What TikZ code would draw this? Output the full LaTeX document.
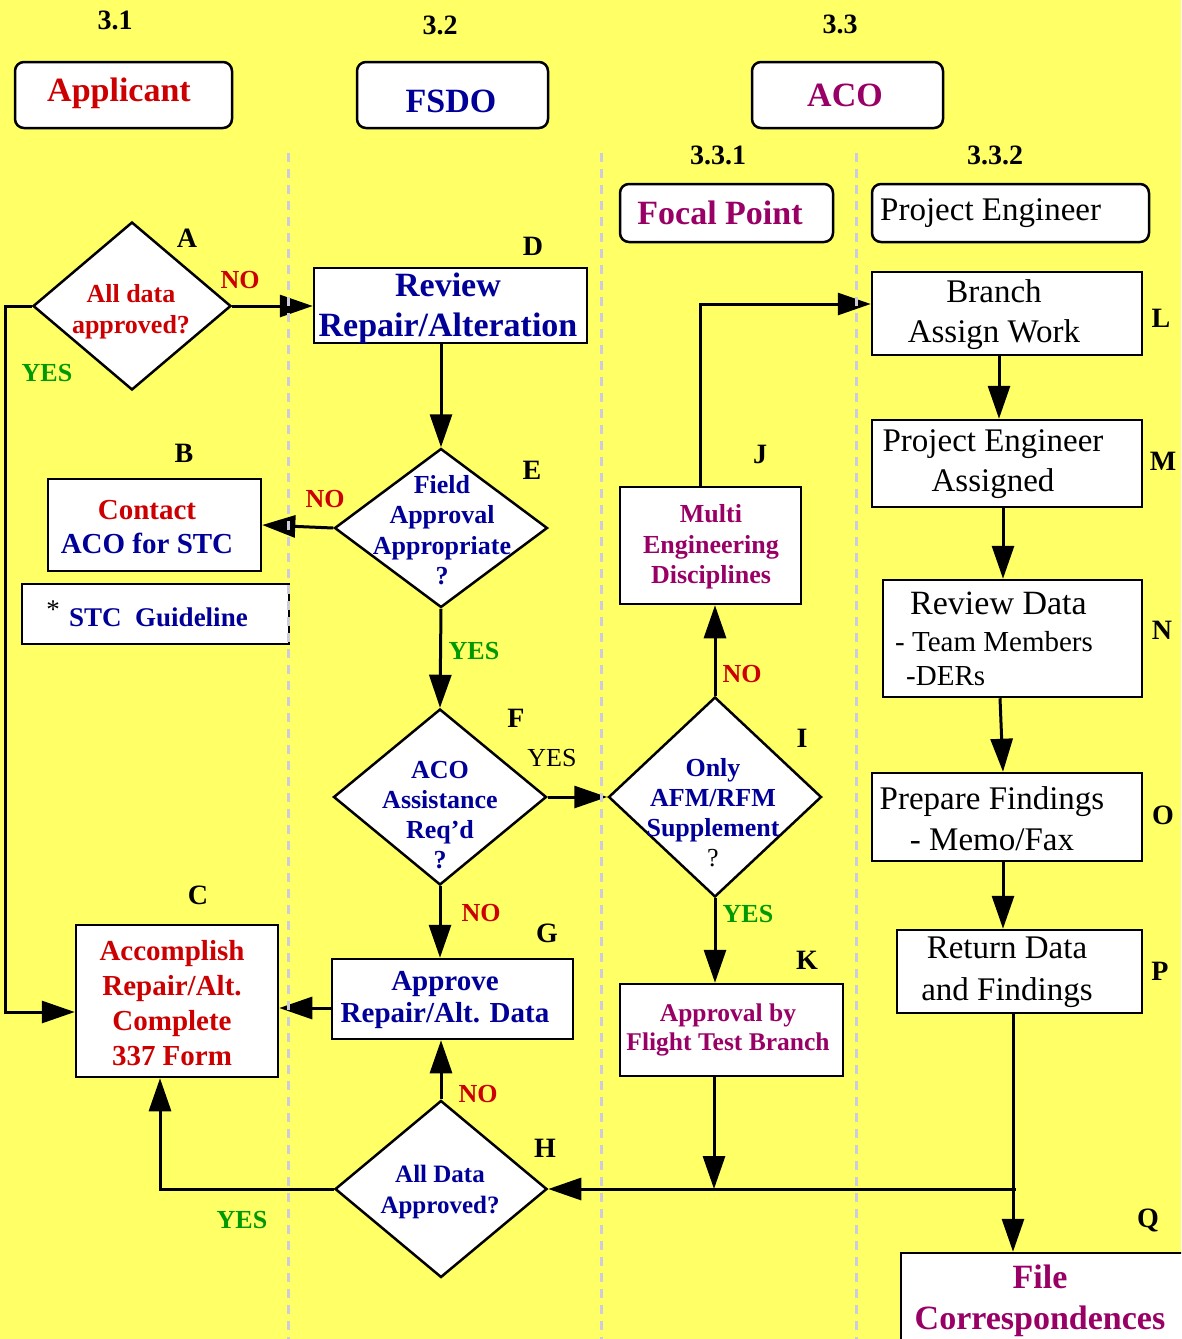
\documentclass[tikz,border=0pt]{standalone}
\usepackage{fontspec}
\setmainfont{Liberation Serif}
\usetikzlibrary{arrows.meta,shapes.geometric}
\definecolor{bgY}{RGB}{255,255,102}
\definecolor{cRed}{RGB}{204,0,0}
\definecolor{cBlue}{RGB}{0,0,153}
\definecolor{cPur}{RGB}{153,0,102}
\definecolor{cGrn}{RGB}{0,153,0}
\definecolor{cDash}{RGB}{204,204,221}
\newcommand\fsz[2]{\fontsize{#1}{#2}\selectfont}
\tikzset{
  box/.style={draw=black, fill=white, line width=2.5pt, inner sep=0pt},
  rbox/.style={box, rounded corners=9pt},
  dia/.style={diamond, draw=black, fill=white, line width=2.5pt, inner sep=0pt},
  arr/.style={line width=3pt, -{Triangle[length=33pt,width=22pt]}},
  ln/.style={line width=3pt},
  txt/.style={align=center, inner sep=0pt},
  sec/.style={inner sep=0pt, font=\fsz{28}{32}\bfseries},
  let/.style={inner sep=0pt, font=\fsz{28}{32}\bfseries},
  no/.style={inner sep=0pt, text=cRed, font=\fsz{26}{30}\bfseries},
  yes/.style={inner sep=0pt, text=cGrn, font=\fsz{26}{30}\bfseries},
  lane/.style={cDash, line width=3pt, dash pattern=on 9pt off 7pt},
}
\begin{document}
\begin{tikzpicture}[x=1pt,y=-1pt]
\useasboundingbox (0,0) rectangle (1181,1339);
\fill[bgY] (0,0) rectangle (1181,1339);
\clip (0,0) rectangle (1181,1339);

% section numbers
\node[sec] (s31) at (115,20) {3.1};
\node[sec] (s32) at (440,25) {3.2};
\node[sec] (s33) at (840,24) {3.3};
\node[sec] (s331) at (718,155) {3.3.1};
\node[sec] (s332) at (995,155) {3.3.2};

% header boxes
\node[rbox, minimum width=217pt, minimum height=66pt] (app) at (123.5,95) {};
\node[txt, text=cRed, font=\fsz{34}{40}\bfseries] (appt) at (119,93) {Applicant};
\node[rbox, minimum width=191pt, minimum height=66pt] (fsdo) at (452.5,95) {};
\node[txt, text=cBlue, font=\fsz{34}{40}\bfseries] (fsdot) at (451,101) {FSDO};
\node[rbox, minimum width=191pt, minimum height=66pt] (aco) at (847.5,95) {};
\node[txt, text=cPur, font=\fsz{34}{40}\bfseries] (acot) at (845,95) {ACO};
\node[rbox, minimum width=213pt, minimum height=58pt] (focal) at (726.5,213) {};
\node[txt, text=cPur, font=\fsz{34}{40}\bfseries] (focalt) at (720,213) {Focal Point};
\node[rbox, minimum width=277pt, minimum height=58pt] (pe) at (1010.5,213) {};
\node[txt, anchor=west, font=\fsz{33}{40}] (pet) at (880,213) {Project Engineer};

% diamonds
\node[dia, minimum width=198pt, minimum height=168pt] (A) at (132,306) {};
\node[txt, text=cRed, font=\fsz{26}{31}\bfseries] (At) at (131,312) {All data\\approved?};
\node[dia, minimum width=213pt, minimum height=159pt] (E) at (441,528) {};
\node[txt, text=cBlue, font=\fsz{26}{30.5}\bfseries] (Et) at (442,530) {Field\\Approval\\Appropriate\\?};
\node[dia, minimum width=213pt, minimum height=176pt] (F) at (440,797) {};
\node[txt, text=cBlue, font=\fsz{26}{30}\bfseries] (Ft) at (440,815) {ACO\\Assistance\\Req’d\\?};
\node[dia, minimum width=213pt, minimum height=200pt] (I) at (715,797) {};
\node[txt, text=cBlue, font=\fsz{26}{30}\bfseries] (It) at (713,813) {Only\\AFM/RFM\\Supplement\\{\mdseries\color{black}?}};
\node[dia, minimum width=212pt, minimum height=177pt] (H) at (441,1189) {};
\node[txt, text=cBlue, font=\fsz{25}{31}\bfseries] (Ht) at (440,1192) {All Data\\Approved?};

% boxes
\node[box, minimum width=273pt, minimum height=75pt] (D) at (450.5,305.5) {};
\node[txt, text=cBlue, font=\fsz{34}{40}\bfseries] (Dt) at (448,308) {Review\\Repair/Alteration};
\node[box, minimum width=213pt, minimum height=92pt] (B) at (154.5,525) {};
\node[txt, font=\fsz{29}{34}\bfseries] (Bt) at (147,527) {\textcolor{cRed}{Contact}\\\textcolor{cBlue}{ACO for STC}};
\node[box, minimum width=267pt, minimum height=60pt] (stc) at (155.5,614) {};
\node[inner sep=0pt, font=\fsz{27}{30}] (stcs) at (53,610) {*};
\node[inner sep=0pt, anchor=west, text=cBlue, font=\fsz{27}{30}\bfseries] (stct) at (69,617) {STC\ \ Guideline};
\node[box, minimum width=202pt, minimum height=152pt] (C) at (177,1001) {};
\node[txt, text=cRed, font=\fsz{29}{35}\bfseries] (Ct) at (172,1003) {Accomplish\\Repair/Alt.\\Complete\\337 Form};
\node[box, minimum width=241pt, minimum height=80pt] (G) at (452.5,999) {};
\node[txt, text=cBlue, font=\fsz{29}{32}\bfseries] (Gt) at (445,1000) {Approve\\Repair/Alt. Data};
\node[box, minimum width=181pt, minimum height=117pt] (J) at (710.5,545.5) {};
\node[txt, text=cPur, font=\fsz{26}{30.5}\bfseries] (Jt) at (711,547) {Multi\\Engineering\\Disciplines};
\node[box, minimum width=223pt, minimum height=92pt] (K) at (731.5,1030) {};
\node[txt, text=cPur, font=\fsz{25.5}{29}\bfseries] (Kt) at (728,1030) {Approval by\\Flight Test Branch};
\node[box, minimum width=270pt, minimum height=83pt] (L) at (1007,313.5) {};
\node[txt, font=\fsz{33}{40}] (Lt) at (994,315) {Branch\\Assign Work};
\node[box, minimum width=270pt, minimum height=87pt] (M) at (1007,463.5) {};
\node[txt, font=\fsz{33}{40}] (Mt) at (993,464) {Project Engineer\\Assigned};
\node[box, minimum width=259pt, minimum height=117pt] (N) at (1012.5,638.5) {};
\node[inner sep=0pt, anchor=base west, font=\fsz{34}{40}] (Nt1) at (910,614) {Review Data};
\node[inner sep=0pt, anchor=base west, font=\fsz{29}{34}] (Nt2) at (895,651) {- Team Members};
\node[inner sep=0pt, anchor=base west, font=\fsz{29}{34}] (Nt3) at (906,685) {-DERs};
\node[box, minimum width=270pt, minimum height=88pt] (O) at (1007,817) {};
\node[txt, font=\fsz{33}{41}] (Ot) at (992,819) {Prepare Findings\\- Memo/Fax};
\node[box, minimum width=245pt, minimum height=83pt] (P) at (1019.5,971.5) {};
\node[txt, font=\fsz{33}{42}] (Pt) at (1007,972) {Return Data\\and Findings};
\node[box, minimum width=299pt, minimum height=107pt] (Q) at (1050.5,1306.5) {};
\node[txt, text=cPur, font=\fsz{34}{41}\bfseries] (Qt) at (1040,1301) {File\\Correspondences};

% letters
\node[let] (lA) at (187,238) {A};
\node[let] (lB) at (184,453) {B};
\node[let] (lC) at (198,895) {C};
\node[let] (lD) at (533,246) {D};
\node[let] (lE) at (532,470) {E};
\node[let] (lF) at (516,718) {F};
\node[let] (lG) at (547,933) {G};
\node[let] (lH) at (545,1148) {H};
\node[let] (lI) at (802,738) {I};
\node[let] (lJ) at (760,454) {J};
\node[let] (lK) at (807,960) {K};
\node[let] (lL) at (1161,318) {L};
\node[let] (lM) at (1163,461) {M};
\node[let] (lN) at (1162,630) {N};
\node[let] (lO) at (1163,815) {O};
\node[let] (lP) at (1160,971) {P};
\node[let] (lQ) at (1148,1220) {Q};

% yes / no
\node[no] (noA) at (240,280) {NO};
\node[yes] (yesA) at (47,373) {YES};
\node[no] (noE) at (325,499) {NO};
\node[yes] (yesE) at (474,651) {YES};
\node[inner sep=0pt, font=\fsz{26}{30}] (yesF) at (552,758) {YES};
\node[no] (noF) at (481,913) {NO};
\node[no] (noI) at (742,674) {NO};
\node[yes] (yesI) at (748,914) {YES};
\node[no] (noH) at (478,1094) {NO};
\node[yes] (yesH) at (242,1220) {YES};

% connectors
\coordinate (cAl) at (5,306);
\coordinate (cCl) at (5,1012);
\coordinate (cHC) at (160,1189);
\coordinate (cJL) at (700,304);
\coordinate (cPH) at (1016,1189);

\draw[arr] (A.east) -- (A.east -| D.west);
\draw[arr] (A.west) -- (cAl) -- (cCl) -- (cCl -| C.west);
\draw[arr] (D.south -| E.north) -- (E.north);
\draw[arr] (E.west) -- (B.east);
\draw[arr] (E.south) -- (F.north);
\draw[arr] (F.east) -- (I.west);
\draw[arr] (F.south) -- (F.south |- G.north);
\draw[arr] ([yshift=-9pt]G.west) -- ([yshift=-9pt]G.west -| C.east);
\draw[arr] (H.north) -- (H.north |- G.south);
\draw[arr] (H.west) -- (cHC) -- (cHC |- C.south);
\draw[arr] (I.north) -- (I.north |- J.south);
\draw[arr] (cJL |- J.north) -- (cJL) -- (cJL -| L.west);
\draw[arr] (I.south) -- (I.south |- K.north);
\draw[arr] ([xshift=-8pt]L.south) -- ([xshift=-8pt]M.north);
\draw[arr] ([xshift=-4pt]M.south) -- ([xshift=-9.5pt]N.north);
\draw[arr] ([xshift=-12.5pt]N.south) -- ([xshift=-4pt]O.north);
\draw[arr] ([xshift=-4pt]O.south) -- ([xshift=-16.5pt]P.north);
\draw[arr] ([xshift=-6.5pt]P.south) -- ([xshift=-37.5pt]Q.north);
\draw[arr] (cPH) -- (H.east);
\draw[arr] ([xshift=-17.5pt]K.south) -- ([xshift=-17.5pt]K.south |- H.east);

% swimlane separators (on top)
\draw[lane] (288,153) -- (288,1339);
\draw[lane] (601,153) -- (601,1339);
\draw[lane] (856,153) -- (856,1339);
\end{tikzpicture}
\end{document}
